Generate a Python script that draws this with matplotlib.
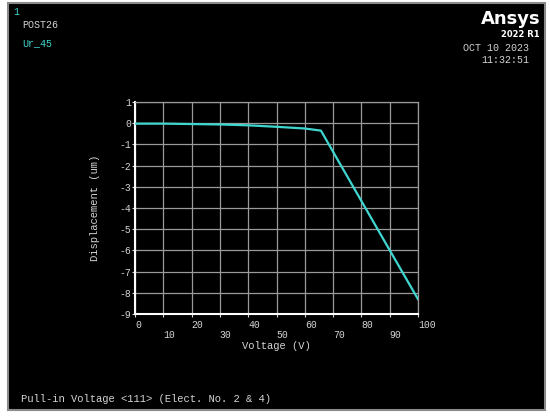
import matplotlib
matplotlib.use('Agg')
import matplotlib.pyplot as plt
from matplotlib.patches import Rectangle

# POST26 curve: displacement vs applied voltage
volts = [0, 10, 20, 30, 40, 50, 60, 65.7, 70, 80, 90, 100]
disp = [-0.02, -0.02, -0.04, -0.06, -0.10, -0.17, -0.25, -0.35, -1.35, -3.67, -5.99, -8.30]

x_ticks = [0, 10, 20, 30, 40, 50, 60, 70, 80, 90, 100]
y_ticks = [1, 0, -1, -2, -3, -4, -5, -6, -7, -8, -9]

mono = 'Liberation Mono'
grey = '#d4d4d4'
cyan = '#3fd6d0'
plt.rcParams['axes.unicode_minus'] = False

fig = plt.figure(figsize=(5.5, 4.17), dpi=100, facecolor='white')

# black graphics window with grey frame
fig.patches.append(Rectangle((0.0145, 0.0168), 0.9765, 0.976, transform=fig.transFigure,
                             facecolor='black', edgecolor='#8a8a8a', linewidth=1.5, zorder=-5))

ax = fig.add_axes([0.2455, 0.247, 0.5145, 0.5084])
ax.set_zorder(2)
ax.set_facecolor('black')
ax.plot(volts, disp, color=cyan, linewidth=1.6, zorder=3)

ax.set_xlim(0, 100)
ax.set_ylim(-9, 1)
ax.set_xticks(x_ticks)
# staggered labels: every other one drops to a second row
ax.set_xticklabels([str(v) if i % 2 == 0 else '\n' + str(v) for i, v in enumerate(x_ticks)])
for lab in ax.get_xticklabels():
    lab.set_horizontalalignment('left')
    lab.set_linespacing(1.0)
ax.set_yticks(y_ticks)
ax.set_yticklabels([str(v) for v in y_ticks])
ax.tick_params(colors=grey, labelsize=7, length=2, width=0.8)
ax.tick_params(axis='x', pad=2)
ax.tick_params(axis='y', pad=1)
for lab in ax.get_xticklabels() + ax.get_yticklabels():
    lab.set_fontfamily(mono)

ax.grid(True, color='#9a9a9a', linewidth=0.9)
for side in ['top', 'right']:
    ax.spines[side].set_color('#9a9a9a')
    ax.spines[side].set_linewidth(0.9)
for side in ['left', 'bottom']:
    ax.spines[side].set_color('white')
    ax.spines[side].set_linewidth(1.5)

ax.set_xlabel('Voltage (V)', color=grey, fontsize=7.6, family=mono, labelpad=1)
ax.set_ylabel('Displacement (um)', color=grey, fontsize=7.6, family=mono, labelpad=14)

# header / footer annotations
fig.text(0.0236, 0.972, '1', color=cyan, fontsize=7, family=mono, va='center')
fig.text(0.04, 0.94, 'POST26', color=grey, fontsize=7.2, family=mono, va='center')
fig.text(0.04, 0.897, 'Ur_45', color=cyan, fontsize=7.2, family=mono, va='center')
fig.text(0.982, 0.955, 'Ansys', color='white', fontsize=13, family='DejaVu Sans',
         weight='bold', ha='right', va='center')
fig.text(0.982, 0.918, '2022 R1', color='white', fontsize=6, family='DejaVu Sans',
         weight='bold', ha='right', va='center')
fig.text(0.962, 0.885, 'OCT 10 2023', color=grey, fontsize=7.2, family=mono, ha='right', va='center')
fig.text(0.962, 0.856, '11:32:51', color=grey, fontsize=7.2, family=mono, ha='right', va='center')
fig.text(0.038, 0.043, 'Pull-in Voltage <111> (Elect. No. 2 & 4)', color=grey,
         fontsize=7.6, family=mono, va='center')

fig.savefig('out.png', dpi=100, facecolor='white')
